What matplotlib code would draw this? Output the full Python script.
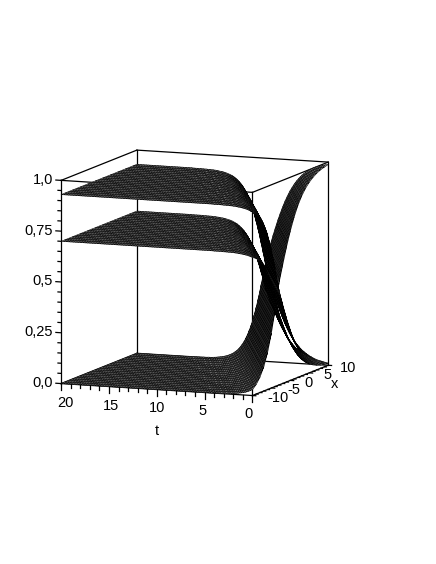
import numpy as np
import matplotlib
matplotlib.use("Agg")
import matplotlib.pyplot as plt
from mpl_toolkits.mplot3d import proj3d

plt.rcParams['font.family'] = ['Liberation Sans', 'DejaVu Sans']

# values
t_range = [0, 20]
x_range = [-10, 10]
t_grid_step = 0.25
x_grid_step = 1.0
upper_level = 0.93
middle_level = 0.70
# rise of the lower sheet against wave position (x - 2 t), sampled at half units from -20 to 10
wave_position = np.arange(-40, 21) / 2
wave_rise = np.array([
    .000, .000, .000, .000, .001, .001, .001, .001, .002, .002,
    .003, .003, .004, .005, .007, .009, .011, .014, .018, .023,
    .029, .037, .047, .060, .076, .095, .119, .148, .182, .223,
    .269, .321, .378, .438, .500, .542, .584, .625, .664, .701,
    .735, .767, .796, .822, .846, .866, .885, .901, .915, .928,
    .938, .947, .955, .962, .968, .973, .977, .980, .983, .986, .988])
z_major = [0, 0.25, 0.5, 0.75, 1.0]
z_labels = ['0,0', '0,25', '0,5', '0,75', '1,0']
z_minor = [i / 20 for i in range(21)]
t_major = [0, 5, 10, 15, 20]
t_minor = list(range(21))
x_major = [-10, -5, 0, 5, 10]
x_minor = list(range(-10, 11))

t = np.arange(t_range[0], t_range[1] + t_grid_step, t_grid_step)
x = np.arange(x_range[0], x_range[1] + x_grid_step, x_grid_step)
T, X = np.meshgrid(t, x)
U = X - 2 * T
idx = np.clip(np.round((U - wave_position[0]) * 2).astype(int), 0, len(wave_rise) - 1)
rise = wave_rise[idx]
sheets = [rise, upper_level * (1 - rise), middle_level * (1 - rise)]

fig = plt.figure(figsize=(4.36, 5.64), dpi=100)
W, H = 436, 564
side = 346
cx, cy = 190, 277.5
ax = fig.add_axes([(cx - side / 2) / W, 1 - (cy + side / 2) / H, side / W, side / H],
                  projection='3d', proj_type='ortho')
ax.set_box_aspect((1, 1, 1))
ax.view_init(elev=9.1, azim=201.6)
ax.computed_zorder = False
ax.patch.set_alpha(0)
ax.set_xlim(x_range); ax.set_ylim(t_range); ax.set_zlim(0, 1)
ax.set_axis_off()

for i, z in enumerate(sheets):
    ax.plot_surface(X, T, z, rstride=1, cstride=1, color='white', edgecolor='k',
                    linewidth=0.45, shade=False, zorder=3 + i)

box = dict(color='k', lw=0.9, zorder=2)
for a in x_range:
    for b in t_range:
        ax.plot([a, a], [b, b], [0, 1], **box)
for b in t_range:
    for c in [0, 1]:
        ax.plot(x_range, [b, b], [c, c], **box)
for a in x_range:
    for c in [0, 1]:
        ax.plot([a, a], t_range, [c, c], **box)

tick = dict(color='k', lw=0.9, zorder=8)
for z in z_minor:
    d = 0.55 if z in z_major else 0.33
    ax.plot([-10, -10], [20, 20 + d], [z, z], **tick)
for v in t_minor:
    d = 0.032 if v in t_major else 0.018
    ax.plot([-10, -10], [v, v], [0, -d], **tick)
for v in x_minor:
    d = 0.35 if v in x_major else 0.2
    ax.plot([v, v], [0, -d], [0, 0], **tick)


def label(xv, tv, zv, s, ha='center'):
    px, py, _ = proj3d.proj_transform(xv, tv, zv, ax.get_proj())
    ax.text2D(px, py, s, transform=ax.transData, ha=ha, va='center', fontsize=10.5)


for z, s in zip(z_major, z_labels):
    label(-10, 20.85, z, s, ha='right')
for v in t_major:
    label(-10, 0.42 + 0.959 * v, -0.093, str(v))
for v, off in zip(x_major, [-2.7, -2.3, -1.9, -1.9, -2.1]):
    label(v, off, -0.005, str(v))
label(-10, 10, -0.205, 't')
label(6.5, -2.0, -0.06, 'x')

fig.savefig('out.png', dpi=100)
